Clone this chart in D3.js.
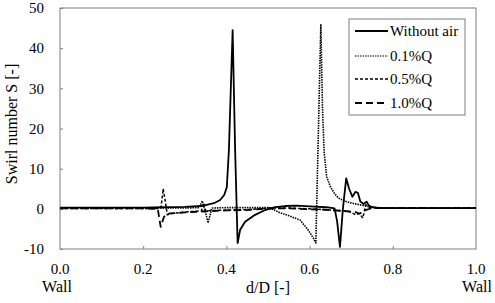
<!DOCTYPE html>
<html>
<head>
<meta charset="utf-8">
<script src="https://cdn.jsdelivr.net/npm/d3@7"></script>
<style>
  body { margin: 0; background: #fff; }
</style>
</head>
<body>
<div id="chart"></div>
<script>
// values
const xTicks = [0.0, 0.2, 0.4, 0.6, 0.8, 1.0];
const yTicks = [-10, 0, 10, 20, 30, 40, 50];

const withoutAirD = [0, 0.05, 0.1, 0.15, 0.2, 0.25, 0.3, 0.34, 0.37, 0.385, 0.395, 0.401, 0.406, 0.415, 0.421, 0.427, 0.433, 0.445, 0.469, 0.493, 0.517, 0.541, 0.57, 0.6, 0.64, 0.66, 0.666, 0.673, 0.68, 0.688, 0.695, 0.703, 0.71, 0.716, 0.722, 0.73, 0.737, 0.742, 0.75, 0.77, 0.8, 0.9, 1.0];
const withoutAirS = [0.3, 0.3, 0.3, 0.3, 0.3, 0.4, 0.5, 0.7, 1.4, 2.2, 3.5, 5.4, 14.6, 44.5, 14.6, -8.5, -5.2, -3.2, -1.5, -0.3, 0.4, 0.7, 0.8, 0.6, 0.4, 0.1, -3, -9.5, 0, 7.6, 5, 3, 4.2, 4, 1.8, 1.2, 1.8, 0.9, 0.4, 0.2, 0.2, 0.2, 0.2];

const q01D = [0, 0.1, 0.2, 0.3, 0.335, 0.342, 0.35, 0.356, 0.365, 0.4, 0.45, 0.5, 0.515, 0.529, 0.55, 0.577, 0.597, 0.609, 0.615, 0.627, 0.631, 0.635, 0.641, 0.65, 0.66, 0.669, 0.685, 0.702, 0.721, 0.74, 0.76, 0.8, 0.9, 1.0];
const q01S = [0.2, 0.2, 0.2, 0.2, 0.3, 2.0, -1, -3.5, 0.2, 0.3, 0.3, 0.3, -0.3, -1, -1.7, -2.8, -5.3, -7.3, -8.5, 46, 25, 14, 8, 5.5, 3.8, 2.7, 1.9, 1.4, 1.0, 0.6, 0.3, 0.2, 0.2, 0.2];

const q05D = [0, 0.1, 0.2, 0.238, 0.243, 0.248, 0.253, 0.258, 0.265, 0.3, 0.34, 0.345, 0.35, 0.4, 0.45, 0.5, 0.55, 0.6, 0.65, 0.68, 0.7, 0.71, 0.72, 0.728, 0.735, 0.745, 0.8, 0.9, 1.0];
const q05S = [0.1, 0.1, 0.1, 0.1, 0.5, 5, 2, -1.5, -1.2, -0.8, -0.5, 1.5, -0.5, -0.3, -0.2, 0.2, 0.2, 0, -0.3, -0.5, -0.8, -1.5, -1.2, -2.3, 1.0, 0.3, 0.2, 0.2, 0.2];

const q10D = [0, 0.1, 0.2, 0.235, 0.242, 0.25, 0.26, 0.3, 0.35, 0.4, 0.45, 0.5, 0.55, 0.6, 0.65, 0.69, 0.71, 0.72, 0.73, 0.75, 0.8, 0.9, 1.0];
const q10S = [0.1, 0.1, 0.1, 0, -4.5, -2, -1.2, -0.9, -0.6, -0.4, -0.3, 0.1, 0.1, -0.1, -0.3, -0.6, -0.8, -1.2, -0.5, 0.2, 0.2, 0.2, 0.2];

const seriesNames = ["Without air", "0.1%Q", "0.5%Q", "1.0%Q"];

const width = 495, height = 303;
const plot = { left: 60, right: 476, top: 8, bottom: 249 };
const serif = "'Liberation Serif', 'Times New Roman', 'DejaVu Serif', serif";

const svg = d3.select("#chart").append("svg")
    .attr("width", width)
    .attr("height", height)
    .style("font-family", serif);

const x = d3.scaleLinear().domain([0, 1]).range([plot.left, plot.right]);
const y = d3.scaleLinear().domain([-10, 50]).range([plot.bottom, plot.top]);

// frame
svg.append("rect")
    .attr("x", plot.left).attr("y", plot.top)
    .attr("width", plot.right - plot.left).attr("height", plot.bottom - plot.top)
    .attr("fill", "none").attr("stroke", "#7f7f7f").attr("stroke-width", 1);

// inside ticks
const yAxis = svg.append("g")
    .attr("transform", `translate(${plot.left},0)`)
    .call(d3.axisRight(y).tickValues(yTicks).tickSize(3).tickFormat(""));
yAxis.select(".domain").remove();
yAxis.selectAll("line").attr("stroke", "#7f7f7f");

const xAxis = svg.append("g")
    .attr("transform", `translate(0,${plot.bottom})`)
    .call(d3.axisTop(x).tickValues(xTicks.slice(1, -1)).tickSize(3).tickFormat(""));
xAxis.select(".domain").remove();
xAxis.selectAll("line").attr("stroke", "#7f7f7f");

// tick labels
svg.append("g").selectAll("text")
    .data(yTicks)
    .join("text")
    .attr("x", 44)
    .attr("y", d => y(d))
    .attr("dy", "0.35em")
    .attr("text-anchor", "end")
    .style("font-family", serif)
    .style("font-size", "15px")
    .text(d => d);

svg.append("g").selectAll("text")
    .data(xTicks)
    .join("text")
    .attr("x", d => x(d))
    .attr("y", 274)
    .attr("text-anchor", "middle")
    .style("font-family", serif)
    .style("font-size", "15px")
    .text(d => d3.format(".1f")(d));

const labels = [
  { t: "Wall", x: 57, y: 292 },
  { t: "Wall", x: 477, y: 292 },
  { t: "d/D [-]", x: (plot.left + plot.right) / 2, y: 293 }
];
svg.append("g").selectAll("text")
    .data(labels)
    .join("text")
    .attr("x", d => d.x).attr("y", d => d.y)
    .attr("text-anchor", "middle")
    .style("font-family", serif)
    .style("font-size", "16px")
    .text(d => d.t);

svg.append("text")
    .attr("transform", "translate(17,124) rotate(-90)")
    .attr("text-anchor", "middle")
    .style("font-family", serif)
    .style("font-size", "16px")
    .text("Swirl number S [-]");

// curves
const styles = [
  { dash: null, w: 1.8 },
  { dash: "1.5,1", w: 1.6 },
  { dash: "3,2", w: 1.5 },
  { dash: "7,4", w: 1.8 }
];

const series = [
  d3.zip(withoutAirD, withoutAirS),
  d3.zip(q01D, q01S),
  d3.zip(q05D, q05S),
  d3.zip(q10D, q10S)
];

const line = d3.line().x(d => x(d[0])).y(d => y(d[1]));

svg.append("g").selectAll("path")
    .data(series.map((pts, i) => ({ pts, st: styles[i] })).reverse())
    .join("path")
    .attr("d", d => line(d.pts))
    .attr("fill", "none")
    .attr("stroke", "#000")
    .attr("stroke-width", d => d.st.w)
    .attr("stroke-linejoin", "round")
    .attr("stroke-dasharray", d => d.st.dash);

// legend
const legend = svg.append("g");
legend.append("rect")
    .attr("x", 349).attr("y", 19)
    .attr("width", 116).attr("height", 96)
    .attr("fill", "#fff").attr("stroke", "#7f7f7f");

const rowY = [31, 56, 79, 103];
seriesNames.forEach((name, i) => {
  legend.append("line")
      .attr("x1", 355).attr("x2", 388)
      .attr("y1", rowY[i]).attr("y2", rowY[i])
      .attr("stroke", "#000")
      .attr("stroke-width", i === 1 ? 1.2 : styles[i].w)
      .attr("stroke-dasharray", styles[i].dash);
  legend.append("text")
      .attr("x", 390).attr("y", rowY[i])
      .attr("dy", "0.35em")
      .style("font-family", serif)
      .style("font-size", "15px")
      .text(name);
});
</script>
</body>
</html>
